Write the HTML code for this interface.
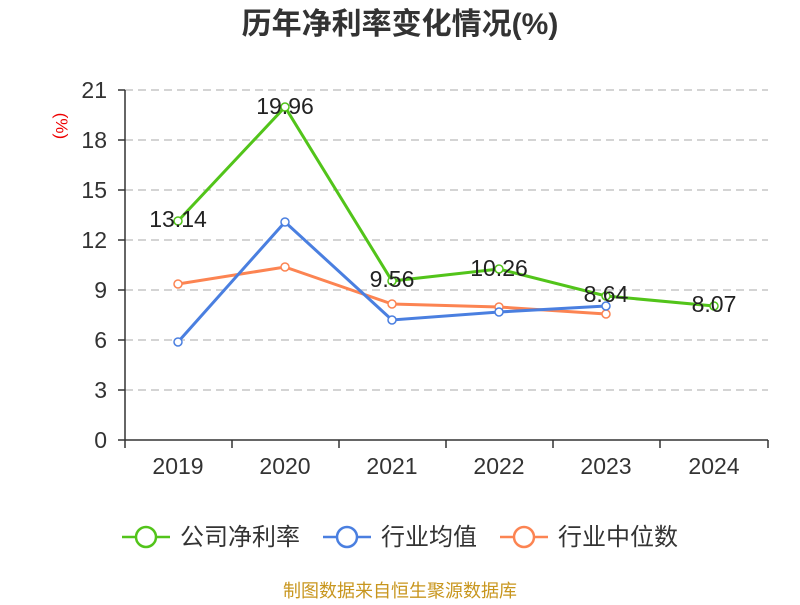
<!DOCTYPE html>
<html><head><meta charset="utf-8"><style>
body{margin:0;background:#fff;}
svg text{font-family:"Liberation Sans","Noto Sans CJK SC",sans-serif;}
</style></head><body>
<svg width="800" height="600" xmlns="http://www.w3.org/2000/svg">
<text x="400" y="34" text-anchor="middle" font-size="30" font-weight="bold" fill="#333">历年净利率变化情况(%)</text>
<text x="62" y="126" font-size="17" fill="#e00" transform="rotate(90 62 126)" text-anchor="middle" dy="6">(%)</text>
<g stroke="#bbb" stroke-dasharray="8,5" stroke-width="1.2">
<line x1="125" x2="768" y1="90" y2="90"/><line x1="125" x2="768" y1="140" y2="140"/>
<line x1="125" x2="768" y1="190" y2="190"/><line x1="125" x2="768" y1="240" y2="240"/>
<line x1="125" x2="768" y1="290" y2="290"/><line x1="125" x2="768" y1="340" y2="340"/>
<line x1="125" x2="768" y1="390" y2="390"/>
</g>
<g stroke="#333" stroke-width="1.5">
<line x1="125" x2="125" y1="90" y2="440"/><line x1="125" x2="768" y1="440" y2="440"/>
<line x1="118" x2="125" y1="90" y2="90"/><line x1="118" x2="125" y1="140" y2="140"/>
<line x1="118" x2="125" y1="190" y2="190"/><line x1="118" x2="125" y1="240" y2="240"/>
<line x1="118" x2="125" y1="290" y2="290"/><line x1="118" x2="125" y1="340" y2="340"/>
<line x1="118" x2="125" y1="390" y2="390"/><line x1="118" x2="125" y1="440" y2="440"/>
<line x1="125" x2="125" y1="440" y2="448"/><line x1="232" x2="232" y1="440" y2="448"/>
<line x1="339" x2="339" y1="440" y2="448"/><line x1="446" x2="446" y1="440" y2="448"/>
<line x1="553" x2="553" y1="440" y2="448"/><line x1="660" x2="660" y1="440" y2="448"/>
<line x1="768" x2="768" y1="440" y2="448"/>
</g>
<g font-size="23" fill="#333" text-anchor="end">
<text x="107" y="98">21</text><text x="107" y="148">18</text><text x="107" y="198">15</text>
<text x="107" y="248">12</text><text x="107" y="298">9</text><text x="107" y="348">6</text>
<text x="107" y="398">3</text><text x="107" y="448">0</text>
</g>
<g font-size="23" fill="#333" text-anchor="middle">
<text x="178" y="474">2019</text><text x="285" y="474">2020</text><text x="392" y="474">2021</text>
<text x="499" y="474">2022</text><text x="606" y="474">2023</text><text x="714" y="474">2024</text>
</g>
<polyline fill="none" stroke="#fc8452" stroke-width="3" points="178,284 285,267 392,304 499,307 606,314"/>
<polyline fill="none" stroke="#4a7fe0" stroke-width="3" points="178,342 285,222 392,320 499,312 606,306"/>
<polyline fill="none" stroke="#52c41a" stroke-width="3" points="178,221 285,107 392,281 499,269 606,296 714,306"/>
<g fill="#fff" stroke-width="1.5">
<g stroke="#fc8452"><circle cx="178" cy="284" r="4"/><circle cx="285" cy="267" r="4"/><circle cx="392" cy="304" r="4"/><circle cx="499" cy="307" r="4"/><circle cx="606" cy="314" r="4"/></g>
<g stroke="#4a7fe0"><circle cx="178" cy="342" r="4"/><circle cx="285" cy="222" r="4"/><circle cx="392" cy="320" r="4"/><circle cx="499" cy="312" r="4"/><circle cx="606" cy="306" r="4"/></g>
<g stroke="#52c41a"><circle cx="178" cy="221" r="4"/><circle cx="285" cy="107" r="4"/><circle cx="392" cy="281" r="4"/><circle cx="499" cy="269" r="4"/><circle cx="606" cy="296" r="4"/><circle cx="714" cy="306" r="4"/></g>
</g>
<g font-size="23" fill="#222" text-anchor="middle">
<text x="178" y="227">13.14</text><text x="285" y="114">19.96</text><text x="392" y="287">9.56</text>
<text x="499" y="276">10.26</text><text x="606" y="302">8.64</text><text x="714" y="312">8.07</text>
</g>
<g stroke-width="2.5" fill="#fff">
<line x1="122" x2="170" y1="537" y2="537" stroke="#52c41a"/><circle cx="146" cy="537" r="10" stroke="#52c41a"/>
<line x1="323" x2="371" y1="537" y2="537" stroke="#4a7fe0"/><circle cx="347" cy="537" r="10" stroke="#4a7fe0"/>
<line x1="500" x2="548" y1="537" y2="537" stroke="#fc8452"/><circle cx="524" cy="537" r="10" stroke="#fc8452"/>
</g>
<g font-size="24" fill="#333">
<text x="180" y="545">公司净利率</text><text x="381" y="545">行业均值</text><text x="558" y="545">行业中位数</text>
</g>
<text x="400" y="597" text-anchor="middle" font-size="18" fill="#c8961e">制图数据来自恒生聚源数据库</text>
</svg>
</body></html>
